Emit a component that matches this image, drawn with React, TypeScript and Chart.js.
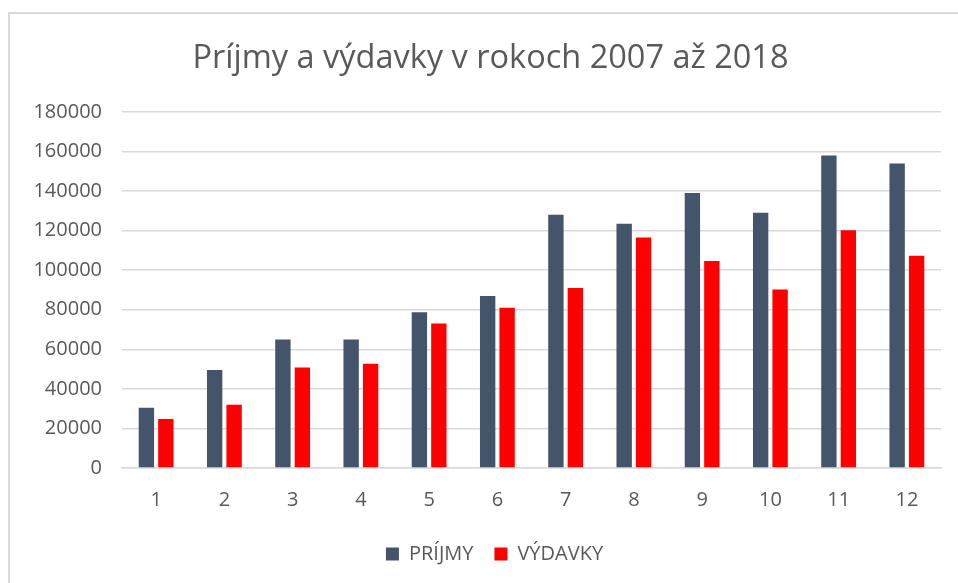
import React, { useEffect, useRef } from "react";
import { Chart, registerables } from "chart.js";

Chart.register(...registerables);

const categories = ["1", "2", "3", "4", "5", "6", "7", "8", "9", "10", "11", "12"];
const prijmy = [30500, 49500, 65000, 65000, 78700, 87000, 128000, 123500, 139000, 129000, 158000, 154000];
const vydavky = [24800, 32000, 50800, 52700, 73000, 81000, 91000, 116500, 104600, 90300, 120200, 107300];
const seriesNames = ["PRÍJMY", "VÝDAVKY"];
const titleText = "Príjmy a výdavky v rokoch 2007 až 2018";

const FONT = "'Open Sans', sans-serif";
const TEXT = "#595959";

const boxShift = {
  id: "boxShift",
  afterLayout(chart: any) {
    if (chart.legend) {
      chart.legend.left += 24;
      chart.legend.right += 24;
      chart.legend.top -= 3;
      chart.legend.bottom -= 3;
    }
    if (chart.titleBlock) {
      chart.titleBlock.left += 20;
      chart.titleBlock.right += 20;
    }
  },
};

export default function App() {
  const ref = useRef<HTMLCanvasElement | null>(null);

  useEffect(() => {
    document.body.style.margin = "0";
    const ctx = ref.current!.getContext("2d")!;
    const chart = new Chart(ctx, {
      type: "bar",
      data: {
        labels: categories,
        datasets: [
          {
            label: seriesNames[0],
            data: prijmy,
            backgroundColor: "#44546a",
            borderWidth: 0,
            categoryPercentage: 0.57,
            barPercentage: 0.79,
          },
          {
            label: seriesNames[1],
            data: vydavky,
            backgroundColor: "#ff0000",
            borderWidth: 0,
            categoryPercentage: 0.57,
            barPercentage: 0.79,
          },
        ],
      },
      plugins: [boxShift],
      options: {
        animation: false,
        responsive: false,
        maintainAspectRatio: false,
        layout: { padding: { left: 0, right: 17, top: 0, bottom: 6 } },
        plugins: {
          title: {
            display: true,
            text: titleText,
            color: TEXT,
            font: { family: FONT, size: 32.5, weight: "normal" },
            padding: { top: 39, bottom: 34 },
          },
          legend: {
            position: "bottom",
            labels: {
              color: TEXT,
              font: { family: FONT, size: 20 },
              boxWidth: 13,
              boxHeight: 13,
              padding: 21,
            },
          },
          tooltip: { enabled: false },
        },
        scales: {
          x: {
            grid: { display: false, drawTicks: false },
            border: { display: true, color: "#d9d9d9", width: 1.5 },
            ticks: { color: TEXT, font: { family: FONT, size: 20 }, padding: 20 },
            afterFit: (s: any) => {
              s.height = 58;
            },
          },
          y: {
            min: 0,
            max: 180000,
            grid: { color: "#d9d9d9", lineWidth: 1.5, drawTicks: false },
            border: { display: false },
            ticks: {
              stepSize: 20000,
              color: TEXT,
              font: { family: FONT, size: 20 },
              padding: 20,
              callback: (v: any) => String(v),
            },
            afterFit: (s: any) => {
              s.width = 122;
            },
          },
        },
      },
    });
    return () => chart.destroy();
  }, []);

  return (
    <div style={{ position: "relative", width: 958, height: 583, overflow: "hidden", background: "#fff" }}>
      <div
        style={{
          position: "absolute",
          left: 8,
          top: 12,
          width: 980,
          height: 620,
          border: "2px solid #d9d9d9",
          boxSizing: "border-box",
        }}
      />
      <canvas ref={ref} width={958} height={583} style={{ position: "absolute", left: 0, top: 0 }} />
    </div>
  );
}
